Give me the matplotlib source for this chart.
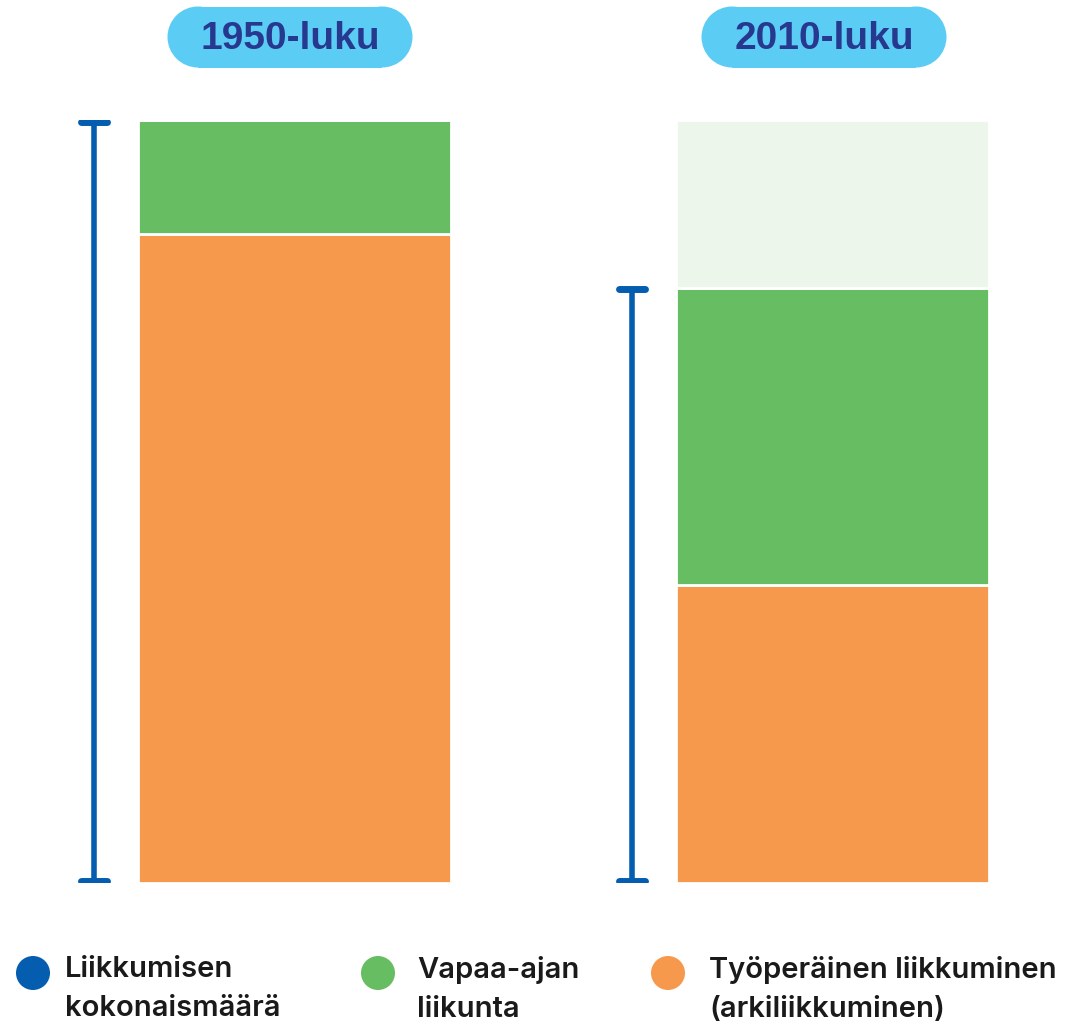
import matplotlib
matplotlib.use("Agg")
import matplotlib.pyplot as plt
from matplotlib.patches import Rectangle, Circle

# ---- data ----
periods = ["1950-luku", "2010-luku"]
work_activity = [85, 39]        # Työperäinen liikkuminen (orange)
leisure_activity = [15, 39]     # Vapaa-ajan liikunta (green)
lost_activity = [0, 22]         # faded remainder compared with 1950s
legend_labels = ["Liikkumisen\nkokonaismäärä", "Vapaa-ajan\nliikunta",
                 "Työperäinen liikkuminen\n(arkiliikkuminen)"]

BLUE = "#045DAE"
GREEN = "#66BD62"
ORANGE = "#F7994D"
PALE = "#ECF6EB"
PILL = "#5BCDF5"
PILL_TEXT = "#27398F"

W, H = 1077, 1029
fig = plt.figure(figsize=(W / 100, H / 100), dpi=100)

# main bar axes: positions 0 and 1, y 0-100
ax = fig.add_axes([0, (H - 883) / H, 1, 763 / H])
ax.set_xlim(-294 / 538, (W - 294) / 538)
ax.set_ylim(0, 100)
ax.axis("off")

x = list(range(len(periods)))
bw = 313 / 538
ax.bar(x, work_activity, width=bw, color=ORANGE, edgecolor="white", linewidth=2)
ax.bar(x, leisure_activity, width=bw, bottom=work_activity, color=GREEN,
       edgecolor="white", linewidth=2)
bottoms2 = [a + b for a, b in zip(work_activity, leisure_activity)]
ax.bar(x, lost_activity, width=bw, bottom=bottoms2, color=PALE,
       edgecolor="white", linewidth=2)

# total-amount range markers
off = -200 / 538
cap = 13 / 538
for xi, tot in zip(x, bottoms2):
    xe = xi + off
    ax.plot([xe, xe], [0.2, tot - 0.2], color=BLUE, lw=4, solid_capstyle="butt")
    for yv in (0.2, tot - 0.2):
        ax.plot([xe - cap, xe + cap], [yv, yv], color=BLUE, lw=5,
                solid_capstyle="round")

# overlay axes in pixel coords for decorations
ov = fig.add_axes([0, 0, 1, 1], zorder=5)
ov.set_xlim(0, W)
ov.set_ylim(H, 0)
ov.axis("off")
ov.patch.set_alpha(0)

for cx, label in zip([290, 824], periods):
    w, h, cy = 245, 61, 37
    r = h / 2
    ov.add_patch(Rectangle((cx - w / 2 + r, cy - r), w - 2 * r, h,
                           facecolor=PILL, edgecolor="none"))
    ov.add_patch(Circle((cx - w / 2 + r, cy), r, facecolor=PILL, edgecolor="none"))
    ov.add_patch(Circle((cx + w / 2 - r, cy), r, facecolor=PILL, edgecolor="none"))
    ov.text(cx, 39, label, ha="center", va="center", fontsize=28,
            fontweight="bold", color=PILL_TEXT, family="Liberation Sans")

for cx, tx, col, lab in zip([33, 378, 668], [65, 417, 709],
                            [BLUE, GREEN, ORANGE], legend_labels):
    ov.add_patch(Circle((cx, 973), 17, facecolor=col, edgecolor="none"))
    ov.text(tx, 956, lab, ha="left", va="top", fontsize=21,
            fontweight="semibold", color="#1a1a1a", family="Inter",
            linespacing=1.55)

fig.savefig("out.png", dpi=100)
